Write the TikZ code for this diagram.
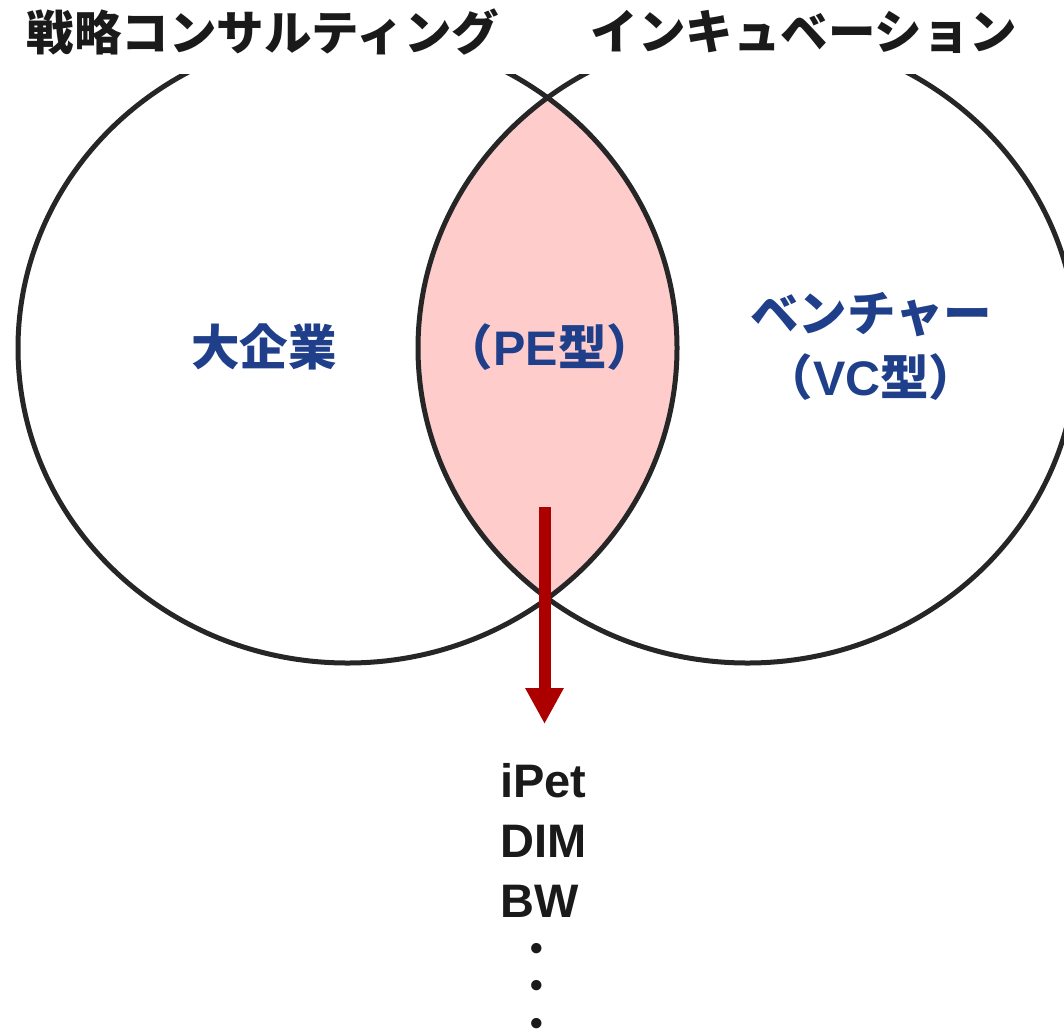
\documentclass[tikz,border=0pt]{standalone}
\usepackage{fontspec}
\setmainfont{Liberation Sans}
\newfontfamily\cjk{Noto Sans CJK JP}
\usetikzlibrary{arrows.meta}
\definecolor{ttlblack}{RGB}{26,26,26}
\definecolor{ringgray}{RGB}{38,38,38}
\definecolor{lenspink}{RGB}{255,204,204}
\definecolor{labelblue}{RGB}{31,63,139}
\definecolor{arrowred}{RGB}{172,0,0}
\tikzset{
  ttl/.style={text=ttlblack, inner sep=0pt, font=\cjk\bfseries\fontsize{47.5}{52}\selectfont},
  lbl/.style={text=labelblue, inner sep=0pt, font=\bfseries\fontsize{48.5}{52}\selectfont},
  ring/.style={draw=ringgray, line width=5pt},
  item/.style={text=ttlblack, inner sep=0pt, anchor=base west, font=\bfseries\fontsize{47}{52}\selectfont},
  dotitem/.style={text=ttlblack, inner sep=0pt, align=center, font=\bfseries\fontsize{36}{37.5}\selectfont},
  bigarrow/.style={draw=arrowred, line width=12pt, -{Triangle[width=36pt,length=36pt]}}
}
\begin{document}
\begin{tikzpicture}[x=1pt,y=-1pt]
\useasboundingbox (0,0) rectangle (1064,1029);
% circles, cut at the top
\begin{scope}
  \clip (0,74) rectangle (1064,1029);
  \begin{scope}
    \clip (347.5,348) ellipse [x radius=329.5pt, y radius=315pt];
    \fill[lenspink] (747.5,348) ellipse [x radius=329.5pt, y radius=315pt];
  \end{scope}
  \draw[ring] (347.5,348) ellipse [x radius=329.5pt, y radius=315pt];
  \draw[ring] (747.5,348) ellipse [x radius=329.5pt, y radius=315pt];
\end{scope}
% titles
\node[ttl] (t1) at (263,32) {戦略コンサルティング};
\node[ttl] (t2) at (804,32) {インキュベーション};
% labels
\node[lbl] (big) at (264,347) {\cjk\bfseries 大企業};
\node[lbl] (pe) at (550,347) {{\cjk\bfseries （}PE{\cjk\bfseries 型）}};
\node[lbl] (ven) at (871,315) {\cjk\bfseries ベンチャー};
\node[lbl] (vc) at (871,377) {{\cjk\bfseries （}VC{\cjk\bfseries 型）}};
% arrow
\coordinate (a1) at (544.5,507);
\coordinate (a2) at (544.5,724);
\draw[bigarrow] (a1) -- (a2);
% list
\node[item] (l1) at (500,797) {iPet};
\node[item] (l2) at (500,857) {DIM};
\node[item] (l3) at (500,917) {BW};
\node[dotitem] (dots) at (537,989) {•\\•\\•};
\end{tikzpicture}
\end{document}
